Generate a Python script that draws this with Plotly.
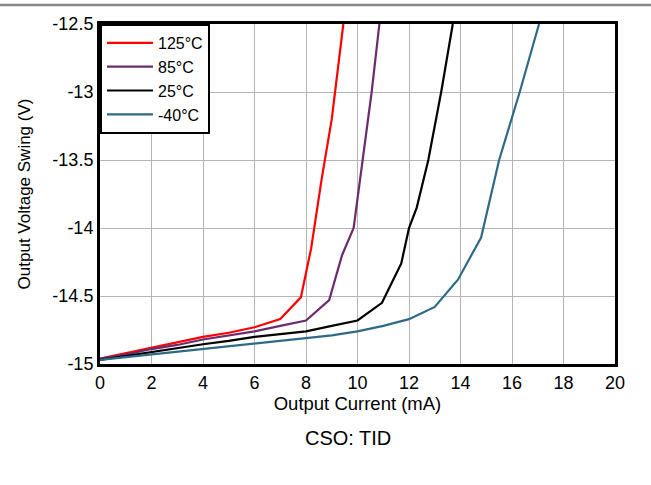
import plotly.graph_objects as go

# ---- data ----
labels = ["125°C", "85°C", "25°C", "-40°C"]
colors = ["#FF0000", "#6B2C6E", "#000000", "#2E6A85"]

x_125 = [0, 1, 2, 3, 4, 5, 6, 7, 7.8, 8.2, 8.6, 9.0, 9.45]
y_125 = [-14.96, -14.92, -14.88, -14.84, -14.80, -14.77, -14.73, -14.67, -14.51, -14.15, -13.65, -13.2, -12.5]

x_85 = [0, 1, 2, 3, 4, 5, 6, 7, 8, 8.9, 9.4, 9.85, 10.2, 10.55, 10.85]
y_85 = [-14.96, -14.93, -14.89, -14.86, -14.82, -14.79, -14.76, -14.72, -14.68, -14.53, -14.2, -14.0, -13.5, -13.0, -12.5]

x_25 = [0, 1, 2, 3, 4, 5, 6, 7, 8, 9, 10, 10.95, 11.7, 12.0, 12.3, 12.75, 13.25, 13.7]
y_25 = [-14.97, -14.94, -14.91, -14.88, -14.855, -14.83, -14.80, -14.78, -14.76, -14.72, -14.68, -14.55, -14.26, -14.0, -13.85, -13.5, -13.0, -12.5]

x_m40 = [0, 1, 2, 3, 4, 5, 6, 7, 8, 9, 10, 11, 12, 13, 13.9, 14.8, 15.5, 16.3, 17.05]
y_m40 = [-14.97, -14.95, -14.93, -14.91, -14.885, -14.87, -14.85, -14.83, -14.81, -14.79, -14.76, -14.72, -14.67, -14.58, -14.38, -14.07, -13.5, -13.0, -12.5]

x_ticks = [0, 2, 4, 6, 8, 10, 12, 14, 16, 18, 20]
x_ticktext = ["0", "2", "4", "6", "8", "10", "12", "14", "16", "18", "20"]
y_ticks = [-15, -14.5, -14, -13.5, -13, -12.5]
y_ticktext = ["-15", "-14.5", "-14", "-13.5", "-13", "-12.5"]

series = [(x_125, y_125), (x_85, y_85), (x_25, y_25), (x_m40, y_m40)]

FONT = "Liberation Sans, Arial, sans-serif"

fig = go.Figure()
for (xs, ys), name, c in zip(series, labels, colors):
    fig.add_trace(go.Scatter(x=xs, y=ys, mode="lines", name=name,
                             line=dict(color=c, width=2.2)))

W, H = 651, 485
ml, mr, mt, mb = 100, 36, 24, 121
pw = W - ml - mr
ph = H - mt - mb

fig.update_layout(
    width=W, height=H,
    margin=dict(l=ml, r=mr, t=mt, b=mb),
    paper_bgcolor="white", plot_bgcolor="white",
    font=dict(family=FONT, size=18, color="black"),
    showlegend=True,
    legend=dict(x=0, y=1, xanchor="left", yanchor="top",
                bgcolor="white", bordercolor="black", borderwidth=2,
                font=dict(size=16, family=FONT),
                tracegroupgap=0, itemwidth=46),
    xaxis=dict(range=[0, 20], tickvals=x_ticks, ticktext=x_ticktext,
               showgrid=True, gridcolor="#B4B4B4", gridwidth=1,
               showline=True, linecolor="black", linewidth=3, mirror=True,
               zeroline=False, ticks="", tickfont=dict(size=18),
               title=dict(text="Output Current (mA)", font=dict(size=18.5), standoff=2)),
    yaxis=dict(range=[-15, -12.5], tickvals=y_ticks, ticktext=y_ticktext,
               showgrid=True, gridcolor="#B4B4B4", gridwidth=1,
               showline=True, linecolor="black", linewidth=3, mirror=True,
               zeroline=False, ticks="", tickfont=dict(size=18),
               title=dict(text="Output Voltage Swing (V)", font=dict(size=17), standoff=18)),
)

# top gray rule across the page
fig.add_shape(type="line", xref="paper", yref="paper",
              x0=-ml / pw, x1=(W - ml) / pw,
              y0=1 + (mt - 5) / ph, y1=1 + (mt - 5) / ph,
              line=dict(color="#888888", width=2.5))

# caption
fig.add_annotation(text="CSO: TID", xref="paper", yref="paper",
                   x=(348 - ml) / pw, y=(ph + mt - 438) / ph,
                   showarrow=False, xanchor="center", yanchor="middle",
                   font=dict(size=20, family=FONT))

fig.write_html("out.html")
